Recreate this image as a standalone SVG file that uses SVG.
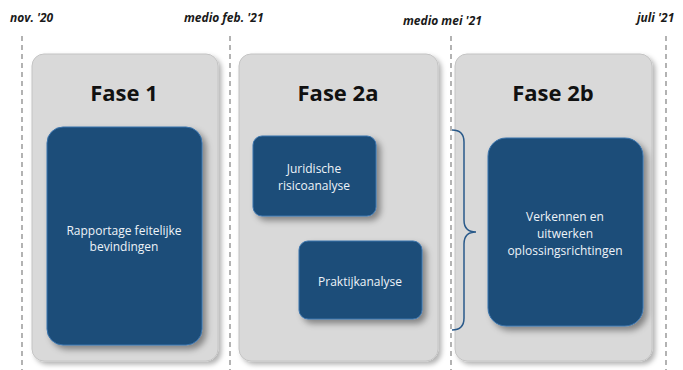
<svg xmlns="http://www.w3.org/2000/svg" width="683" height="370" viewBox="0 0 683 370">
<style>
.date{font-family:"Open Sans","Liberation Sans",sans-serif;font-weight:bold;font-style:italic;font-size:12px;fill:#1a1a1a}
.dash{stroke:#8a8a8a;stroke-width:1.3;stroke-dasharray:5,4;fill:none}
.panel{fill:#d9d9d9;stroke:#c4c4c4;stroke-width:1;filter:url(#psh)}
.title{font-family:"Open Sans","Liberation Sans",sans-serif;font-weight:bold;font-size:22px;fill:#111;text-anchor:middle}
.box{fill:#1f4e79;stroke:#3a74ad;stroke-width:1;filter:url(#bsh)}
.lbl{font-family:"Open Sans","Liberation Sans",sans-serif;font-size:12px;fill:#eef3f8;text-anchor:middle}
.brace{fill:none;stroke:#2a5a8a;stroke-width:1.5}
</style>
<defs>
<filter id="psh" x="-10%" y="-10%" width="130%" height="130%">
<feDropShadow dx="3" dy="3" stdDeviation="2.5" flood-color="#000" flood-opacity="0.3"/>
</filter>
<filter id="bsh" x="-15%" y="-15%" width="140%" height="140%">
<feDropShadow dx="4" dy="4" stdDeviation="3" flood-color="#000" flood-opacity="0.4"/>
</filter>
</defs>
<g id="timeline">
<line class="dash" x1="22" y1="36" x2="22" y2="370"/>
<line class="dash" x1="230" y1="36" x2="230" y2="370"/>
<line class="dash" x1="451" y1="36" x2="451" y2="370"/>
<line class="dash" x1="666" y1="36" x2="666" y2="370"/>
<text class="date" x="10" y="22">nov. '20</text>
<text class="date" x="184" y="22">medio feb. '21</text>
<text class="date" x="403" y="25">medio mei '21</text>
<text class="date" x="637" y="22">juli '21</text>
</g>
<g id="fase1">
<rect class="panel" x="32" y="54" width="186" height="307" rx="12"/>
<text class="title" x="124" y="101">Fase 1</text>
</g>
<g id="fase2a">
<rect class="panel" x="239" y="54" width="199" height="307" rx="12"/>
<text class="title" x="338" y="101">Fase 2a</text>
</g>
<g id="fase2b">
<rect class="panel" x="455" y="54" width="197" height="307" rx="12"/>
<text class="title" x="553" y="101">Fase 2b</text>
</g>
<g id="rapportage">
<rect class="box" x="47" y="127" width="155" height="218" rx="16"/>
<text class="lbl" x="124" y="235">Rapportage feitelijke</text>
<text class="lbl" x="124" y="251">bevindingen</text>
</g>
<g id="juridisch">
<rect class="box" x="253" y="136" width="123" height="80" rx="9"/>
<text class="lbl" x="314" y="173">Juridische</text>
<text class="lbl" x="314" y="190">risicoanalyse</text>
</g>
<g id="praktijk">
<rect class="box" x="299" y="241" width="123" height="78" rx="9"/>
<text class="lbl" x="360" y="286">Praktijkanalyse</text>
</g>
<g id="verkennen">
<rect class="box" x="488" y="138" width="155" height="188" rx="18"/>
<text class="lbl" x="565" y="221">Verkennen en</text>
<text class="lbl" x="565" y="238">uitwerken</text>
<text class="lbl" x="565" y="255">oplossingsrichtingen</text>
</g>
<g id="connectors">
<path class="brace" d="M452,130 Q464,130 464,142 L464,220 Q464,232 476,232 Q464,232 464,244 L464,318 Q464,330 452,330"/>
</g>
</svg>
